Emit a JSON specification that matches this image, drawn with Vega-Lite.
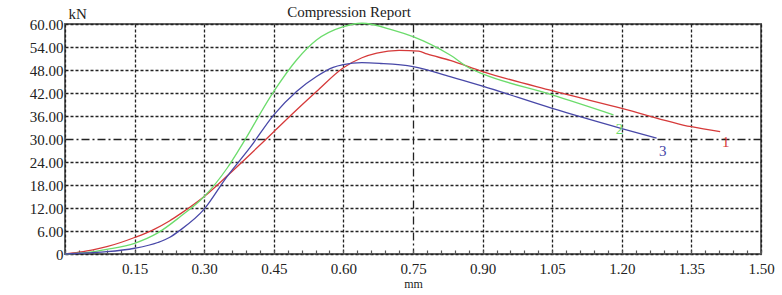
{
  "$schema": "https://vega.github.io/schema/vega-lite/v6.json",
  "autosize": {"type": "none"},
  "padding": {"left": 65, "top": 24, "right": 21, "bottom": 41},
  "width": 696,
  "height": 230,
  "background": "white",
  "config": {
    "font": "Liberation Serif",
    "title": {"font": "Liberation Serif"},
    "text": {"font": "Liberation Serif"},
    "view": {"stroke": "#666666", "strokeWidth": 2},
    "axis": {"labelFont": "Liberation Serif", "titleFont": "Liberation Serif", "labelColor": "#222222", "titleColor": "#222222", "titleFontWeight": "normal", "domain": false}
  },
  "title": {"text": "Compression Report", "font": "Liberation Serif", "fontSize": 15, "fontWeight": "normal", "color": "#222222", "anchor": "middle", "dx": -64, "offset": -26, "baseline": "alphabetic"},
  "datasets": {
    "curves": [
      {"s": "1", "x": 0, "y": 0}, {"s": "1", "x": 0.03, "y": 0.5}, {"s": "1", "x": 0.06, "y": 1.1}, {"s": "1", "x": 0.09, "y": 1.9}, {"s": "1", "x": 0.12, "y": 3.0}, {"s": "1", "x": 0.15, "y": 4.3}, {"s": "1", "x": 0.19, "y": 6.3}, {"s": "1", "x": 0.225, "y": 8.6}, {"s": "1", "x": 0.25, "y": 10.6}, {"s": "1", "x": 0.30, "y": 15.0}, {"s": "1", "x": 0.348, "y": 20.2}, {"s": "1", "x": 0.40, "y": 26.1}, {"s": "1", "x": 0.45, "y": 31.9}, {"s": "1", "x": 0.50, "y": 37.7}, {"s": "1", "x": 0.542, "y": 42.4}, {"s": "1", "x": 0.60, "y": 48.6}, {"s": "1", "x": 0.64, "y": 51.2}, {"s": "1", "x": 0.672, "y": 52.4}, {"s": "1", "x": 0.72, "y": 53.1}, {"s": "1", "x": 0.762, "y": 52.9}, {"s": "1", "x": 0.78, "y": 52.2}, {"s": "1", "x": 0.83, "y": 50.5}, {"s": "1", "x": 0.90, "y": 47.6}, {"s": "1", "x": 1.05, "y": 42.6}, {"s": "1", "x": 1.20, "y": 38.0}, {"s": "1", "x": 1.35, "y": 33.2}, {"s": "1", "x": 1.412, "y": 31.9},
      {"s": "2", "x": 0, "y": 0}, {"s": "2", "x": 0.05, "y": 0.4}, {"s": "2", "x": 0.09, "y": 1.2}, {"s": "2", "x": 0.15, "y": 2.8}, {"s": "2", "x": 0.20, "y": 5.5}, {"s": "2", "x": 0.248, "y": 9.7}, {"s": "2", "x": 0.30, "y": 15.0}, {"s": "2", "x": 0.35, "y": 22.5}, {"s": "2", "x": 0.377, "y": 27.6}, {"s": "2", "x": 0.45, "y": 42.4}, {"s": "2", "x": 0.499, "y": 50.6}, {"s": "2", "x": 0.542, "y": 55.8}, {"s": "2", "x": 0.60, "y": 59.3}, {"s": "2", "x": 0.64, "y": 60.2}, {"s": "2", "x": 0.707, "y": 58.4}, {"s": "2", "x": 0.75, "y": 56.7}, {"s": "2", "x": 0.83, "y": 51.9}, {"s": "2", "x": 0.873, "y": 48.4}, {"s": "2", "x": 0.90, "y": 47.0}, {"s": "2", "x": 1.05, "y": 41.5}, {"s": "2", "x": 1.182, "y": 36.3},
      {"s": "3", "x": 0, "y": 0}, {"s": "3", "x": 0.05, "y": 0.3}, {"s": "3", "x": 0.09, "y": 0.6}, {"s": "3", "x": 0.15, "y": 1.5}, {"s": "3", "x": 0.20, "y": 3.0}, {"s": "3", "x": 0.225, "y": 4.3}, {"s": "3", "x": 0.248, "y": 6.2}, {"s": "3", "x": 0.30, "y": 11.7}, {"s": "3", "x": 0.348, "y": 20.0}, {"s": "3", "x": 0.399, "y": 27.8}, {"s": "3", "x": 0.45, "y": 36.3}, {"s": "3", "x": 0.499, "y": 42.4}, {"s": "3", "x": 0.542, "y": 46.3}, {"s": "3", "x": 0.578, "y": 48.7}, {"s": "3", "x": 0.60, "y": 49.4}, {"s": "3", "x": 0.64, "y": 49.9}, {"s": "3", "x": 0.68, "y": 49.7}, {"s": "3", "x": 0.75, "y": 48.9}, {"s": "3", "x": 0.83, "y": 46.3}, {"s": "3", "x": 0.90, "y": 43.8}, {"s": "3", "x": 1.05, "y": 38.0}, {"s": "3", "x": 1.198, "y": 32.8}, {"s": "3", "x": 1.275, "y": 30.2}
    ],
    "labels": [
      {"s": "1", "x": 1.424, "y": 29.1},
      {"s": "2", "x": 1.195, "y": 32.6},
      {"s": "3", "x": 1.288, "y": 27.0}
    ]
  },
  "encoding": {
    "x": {
      "field": "x", "type": "quantitative",
      "scale": {"domain": [0, 1.5], "nice": false, "zero": false},
      "axis": {
        "title": "mm", "titleFontSize": 12, "titleY": 33, "titleBaseline": "alphabetic",
        "values": [0, 0.03, 0.06, 0.09, 0.12, 0.15, 0.18, 0.21, 0.24, 0.27, 0.3, 0.33, 0.36, 0.39, 0.42, 0.45, 0.48, 0.51, 0.54, 0.57, 0.6, 0.63, 0.66, 0.69, 0.72, 0.75, 0.78, 0.81, 0.84, 0.87, 0.9, 0.93, 0.96, 0.99, 1.02, 1.05, 1.08, 1.11, 1.14, 1.17, 1.2, 1.23, 1.26, 1.29, 1.32, 1.35, 1.38, 1.41, 1.44, 1.47, 1.5],
        "labelExpr": "(datum.value > 0.01 && abs(datum.value / 0.15 - round(datum.value / 0.15)) < 0.01) ? format(datum.value, '.2f') : ''",
        "labelFontSize": 15, "labelPadding": 11, "labelFlush": false, "labelOverlap": false,
        "ticks": true, "tickSize": -4, "tickColor": "#555555", "tickWidth": 1.2,
        "grid": true, "gridColor": "#222222", "gridWidth": 1.3,
        "gridOpacity": {"condition": {"test": "abs(datum.value / 0.15 - round(datum.value / 0.15)) < 0.01", "value": 1}, "value": 0},
        "gridDash": {"condition": {"test": "abs(datum.value - 0.75) < 0.001", "value": [8, 3, 2, 3]}, "value": [3, 2]}
      }
    },
    "y": {
      "field": "y", "type": "quantitative",
      "scale": {"domain": [0, 60], "nice": false},
      "axis": {
        "title": "kN", "titleAngle": 0, "titleFontSize": 15, "titleX": 3, "titleY": -6, "titleAlign": "left", "titleBaseline": "alphabetic",
        "values": [0, 6, 12, 18, 24, 30, 36, 42, 48, 54, 60],
        "labelExpr": "datum.value == 0 ? '0' : format(datum.value, '.2f')",
        "labelFontSize": 15, "labelPadding": 2, "labelFlush": false, "labelOverlap": false,
        "ticks": false,
        "grid": true, "gridColor": "#222222", "gridWidth": 1.3,
        "gridDash": {"condition": {"test": "datum.value == 30", "value": [8, 3, 2, 3]}, "value": [3, 2]}
      }
    },
    "color": {
      "field": "s", "type": "nominal",
      "scale": {"domain": ["1", "2", "3"], "range": ["#d63a3a", "#6cdc6c", "#4848a8"]},
      "legend": null
    }
  },
  "layer": [
    {
      "data": {"name": "curves"},
      "mark": {"type": "line", "interpolate": "monotone", "strokeWidth": 1.3},
      "encoding": {"order": {"field": "x", "type": "quantitative"}}
    },
    {
      "data": {"name": "labels"},
      "mark": {"type": "text", "font": "Liberation Serif", "fontSize": 15, "baseline": "middle", "align": "center"},
      "encoding": {"text": {"field": "s", "type": "nominal"}}
    }
  ]
}
